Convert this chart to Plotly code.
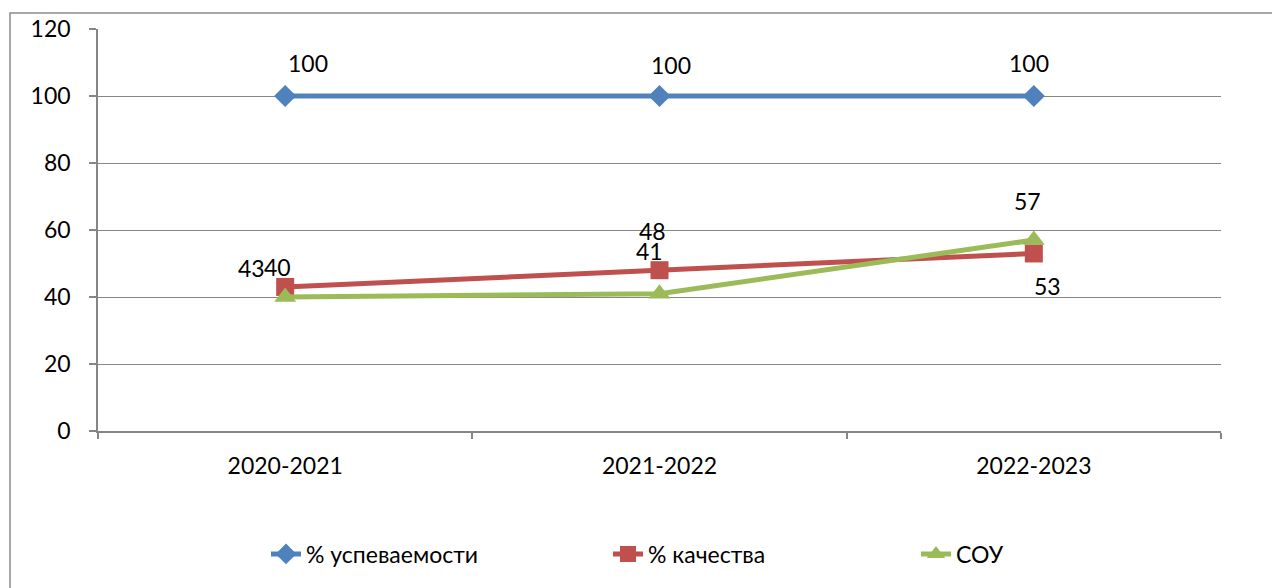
import plotly.graph_objects as go

categories = ["2020-2021", "2021-2022", "2022-2023"]
uspev = [100, 100, 100]
kach = [43, 48, 53]
sou = [40, 41, 57]
series_names = ["% успеваемости", "% качества", "СОУ"]
colors = ["#4F81BD", "#C0504D", "#9BBB59"]
y_ticks = [0, 20, 40, 60, 80, 100, 120]

# label offsets (pixels) per series/point
label_shift = {
    0: [(23, 33), (11, 31), (-5, 33)],
    1: [(-34, 19), (-7, 39), (14, -33)],
    2: [(-8, 30), (-10, 43), (-6, 39)],
}

FONT = "Lato, 'Open Sans', sans-serif"
FS = 23
W, H = 1280, 588
OFF = 7  # page body offset
ML, MT = 97 - OFF, 28 - OFF
MR = W - (1220 - OFF)
MB = H - (430 - OFF)

pw = W - ML - MR
ph = H - MT - MB

fig = go.Figure()
data = [uspev, kach, sou]
symbols = ["diamond", "square", "triangle-up"]
msizes = [17, 18, 19]
legend_ids = ["legend", "legend2", "legend3"]
legend_px = [275, 617, 925]
for i, vals in enumerate(data):
    fig.add_trace(go.Scatter(
        x=categories, y=vals, name=series_names[i], mode="lines+markers",
        line=dict(color=colors[i], width=5),
        marker=dict(symbol=symbols[i], size=msizes[i], color=colors[i]),
        legend=legend_ids[i],
    ))

annotations = []
for i, vals in enumerate(data):
    for j, v in enumerate(vals):
        dx, dy = label_shift[i][j]
        annotations.append(dict(
            x=categories[j], y=v, xref="x", yref="y", text=str(v),
            showarrow=False, xshift=dx, yshift=dy,
            font=dict(family=FONT, size=FS, color="black"),
        ))

shapes = [dict(
    type="rect", xref="paper", yref="paper",
    x0=(9 - OFF - ML) / pw, x1=(1320 - ML) / pw,
    y0=(H - MB - 620) / ph, y1=(H - MB - (12 - OFF)) / ph,
    line=dict(color="#8C8C8C", width=1.5), fillcolor="rgba(0,0,0,0)", layer="below",
)]

legends = {}
for i, lid in enumerate(legend_ids):
    legends[lid] = dict(
        orientation="h", x=(legend_px[i] - OFF - 10 - ML) / pw, xanchor="left",
        y=(H - MB - (553 - OFF)) / ph, yanchor="middle",
        font=dict(family=FONT, size=FS, color="black"),
        bgcolor="rgba(0,0,0,0)",
    )

fig.update_layout(
    width=W, height=H,
    margin=dict(l=ML, r=MR, t=MT, b=MB, autoexpand=False),
    paper_bgcolor="white", plot_bgcolor="white",
    font=dict(family=FONT, size=FS, color="black"),
    showlegend=True,
    annotations=annotations,
    shapes=shapes,
    **legends,
)
fig.update_xaxes(
    type="category", range=[-0.5, 2.5], tickson="boundaries",
    ticks="outside", ticklen=6, tickcolor="#868686", tickwidth=1.5,
    showline=True, linecolor="#868686", linewidth=1.5,
    showgrid=False, zeroline=False, ticklabelstandoff=14, automargin=False,
    tickfont=dict(family=FONT, size=FS, color="black"),
)
fig.update_yaxes(
    range=[0, 120], tickvals=y_ticks,
    ticks="outside", ticklen=7, tickcolor="#868686", tickwidth=1.5,
    showline=True, linecolor="#868686", linewidth=1.5,
    showgrid=True, gridcolor="#868686", gridwidth=1.2,
    zeroline=False, ticklabelstandoff=14, automargin=False,
    tickfont=dict(family=FONT, size=FS, color="black"),
)

fig.write_html("out.html")
